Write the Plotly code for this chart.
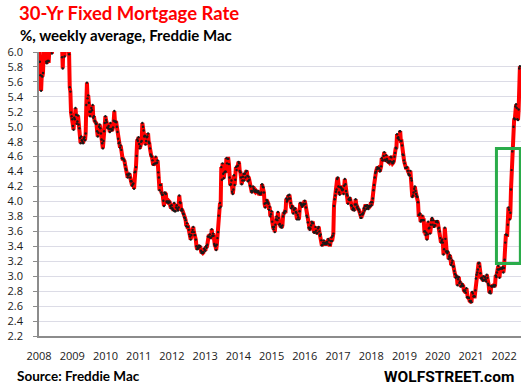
import pandas as pd
import plotly.graph_objects as go

# Weekly 30-yr fixed mortgage rate (%), Freddie Mac
rates_2008 = [6.07, 5.87, 5.69, 5.48, 5.68, 5.67, 5.72, 6.04, 6.24, 6.03, 6.13, 5.87, 5.85, 5.88, 5.88, 5.88, 6.03, 6.06, 6.05, 6.01, 5.98, 6.08, 6.09, 6.32, 6.42, 6.45, 6.35, 6.26, 6.26, 6.63, 6.52, 6.52, 6.52, 6.47, 6.40, 6.35, 5.93, 5.78, 6.09, 6.10, 5.94, 6.46, 6.04, 6.10, 6.20, 6.14, 6.04, 5.97, 5.53, 5.47, 5.19, 5.14, 5.10]
rates_2009 = [5.01, 4.96, 5.12, 5.10, 5.25, 5.16, 5.04, 5.07, 5.15, 5.03, 4.98, 4.85, 4.78, 4.87, 4.82, 4.80, 4.78, 4.84, 4.86, 4.82, 4.91, 5.29, 5.59, 5.38, 5.42, 5.32, 5.20, 5.14, 5.20, 5.25, 5.22, 5.29, 5.12, 5.14, 5.08, 5.07, 5.04, 5.04, 4.94, 4.87, 4.92, 5.00, 5.03, 4.98, 4.91, 4.83, 4.78, 4.71, 4.81, 4.94, 5.05, 5.14]
rates_2010 = [5.09, 5.06, 4.99, 4.98, 5.01, 4.97, 4.93, 5.05, 4.97, 4.95, 4.96, 4.99, 5.08, 5.21, 5.07, 5.07, 5.06, 5.00, 4.93, 4.84, 4.78, 4.79, 4.72, 4.75, 4.69, 4.58, 4.57, 4.57, 4.56, 4.54, 4.49, 4.44, 4.42, 4.36, 4.32, 4.35, 4.37, 4.37, 4.32, 4.27, 4.27, 4.21, 4.23, 4.24, 4.17, 4.39, 4.40, 4.46, 4.61, 4.83, 4.81, 4.86]
rates_2011 = [4.77, 4.71, 4.74, 4.80, 4.81, 5.05, 5.00, 4.95, 4.87, 4.88, 4.76, 4.81, 4.86, 4.87, 4.91, 4.80, 4.78, 4.71, 4.63, 4.61, 4.60, 4.55, 4.49, 4.50, 4.50, 4.51, 4.60, 4.51, 4.52, 4.55, 4.39, 4.32, 4.15, 4.22, 4.22, 4.12, 4.09, 4.09, 4.01, 3.94, 4.12, 4.11, 4.10, 4.00, 3.99, 4.00, 3.98, 4.00, 3.99, 3.94, 3.91, 3.95]
rates_2012 = [3.91, 3.89, 3.88, 3.98, 3.87, 3.87, 3.92, 3.95, 3.90, 3.88, 3.92, 4.08, 3.99, 3.98, 3.88, 3.90, 3.88, 3.84, 3.83, 3.79, 3.78, 3.75, 3.67, 3.71, 3.66, 3.66, 3.62, 3.56, 3.53, 3.49, 3.55, 3.59, 3.62, 3.66, 3.59, 3.55, 3.55, 3.49, 3.40, 3.36, 3.39, 3.37, 3.41, 3.39, 3.40, 3.34, 3.31, 3.32, 3.31, 3.32, 3.37, 3.35]
rates_2013 = [3.34, 3.40, 3.38, 3.42, 3.53, 3.53, 3.53, 3.56, 3.51, 3.52, 3.63, 3.54, 3.57, 3.54, 3.43, 3.41, 3.40, 3.35, 3.42, 3.51, 3.59, 3.81, 3.91, 3.98, 3.93, 4.46, 4.29, 4.51, 4.37, 4.31, 4.39, 4.40, 4.40, 4.58, 4.51, 4.57, 4.57, 4.50, 4.32, 4.22, 4.23, 4.28, 4.13, 4.10, 4.16, 4.35, 4.22, 4.29, 4.46, 4.42, 4.47, 4.48]
rates_2014 = [4.53, 4.51, 4.41, 4.39, 4.32, 4.23, 4.28, 4.33, 4.37, 4.28, 4.37, 4.32, 4.40, 4.41, 4.34, 4.27, 4.33, 4.29, 4.21, 4.20, 4.14, 4.12, 4.14, 4.20, 4.17, 4.14, 4.13, 4.15, 4.13, 4.13, 4.12, 4.14, 4.12, 4.10, 4.10, 4.10, 4.12, 4.23, 4.20, 4.19, 4.12, 3.97, 3.92, 3.98, 4.02, 4.01, 3.99, 3.97, 3.89, 3.93, 3.80, 3.83, 3.87]
rates_2015 = [3.73, 3.66, 3.63, 3.66, 3.59, 3.69, 3.76, 3.80, 3.75, 3.86, 3.78, 3.69, 3.70, 3.66, 3.67, 3.65, 3.68, 3.80, 3.85, 3.84, 3.87, 3.87, 4.04, 4.00, 4.02, 4.08, 4.04, 4.09, 4.04, 3.98, 3.91, 3.94, 3.93, 3.84, 3.89, 3.90, 3.91, 3.86, 3.85, 3.76, 3.82, 3.79, 3.76, 3.87, 3.98, 3.97, 3.95, 3.93, 3.95, 3.97, 3.96, 4.01]
rates_2016 = [3.97, 3.92, 3.81, 3.79, 3.72, 3.65, 3.65, 3.62, 3.64, 3.68, 3.73, 3.71, 3.71, 3.59, 3.58, 3.59, 3.66, 3.61, 3.57, 3.58, 3.64, 3.66, 3.60, 3.54, 3.56, 3.48, 3.41, 3.42, 3.45, 3.48, 3.43, 3.45, 3.43, 3.43, 3.46, 3.44, 3.50, 3.48, 3.42, 3.42, 3.47, 3.52, 3.47, 3.54, 3.57, 3.94, 4.03, 4.08, 4.13, 4.16, 4.30, 4.32]
rates_2017 = [4.20, 4.12, 4.09, 4.19, 4.19, 4.17, 4.15, 4.16, 4.10, 4.21, 4.30, 4.23, 4.14, 4.10, 4.08, 3.97, 4.03, 4.02, 4.05, 4.02, 3.95, 3.94, 3.89, 3.91, 3.90, 3.88, 3.96, 4.03, 3.96, 3.92, 3.93, 3.90, 3.89, 3.86, 3.82, 3.78, 3.78, 3.83, 3.83, 3.85, 3.91, 3.88, 3.94, 3.94, 3.90, 3.95, 3.92, 3.90, 3.94, 3.93, 3.94, 3.99]
rates_2018 = [3.95, 3.99, 4.04, 4.15, 4.22, 4.32, 4.38, 4.40, 4.43, 4.46, 4.44, 4.45, 4.44, 4.40, 4.42, 4.47, 4.58, 4.55, 4.55, 4.61, 4.66, 4.56, 4.54, 4.62, 4.57, 4.55, 4.52, 4.53, 4.52, 4.54, 4.60, 4.59, 4.53, 4.51, 4.52, 4.54, 4.60, 4.65, 4.72, 4.71, 4.90, 4.85, 4.86, 4.83, 4.94, 4.94, 4.81, 4.81, 4.75, 4.63, 4.62, 4.55]
rates_2019 = [4.51, 4.45, 4.45, 4.45, 4.46, 4.41, 4.37, 4.35, 4.35, 4.41, 4.31, 4.28, 4.06, 4.08, 4.12, 4.17, 4.20, 4.14, 4.10, 4.07, 4.06, 3.99, 3.82, 3.82, 3.84, 3.73, 3.75, 3.75, 3.81, 3.75, 3.75, 3.60, 3.60, 3.55, 3.58, 3.49, 3.56, 3.73, 3.64, 3.65, 3.57, 3.69, 3.75, 3.78, 3.69, 3.75, 3.66, 3.68, 3.68, 3.73, 3.73, 3.74]
rates_2020 = [3.72, 3.64, 3.65, 3.60, 3.51, 3.45, 3.47, 3.49, 3.45, 3.29, 3.36, 3.65, 3.50, 3.33, 3.33, 3.31, 3.33, 3.23, 3.26, 3.28, 3.24, 3.15, 3.18, 3.21, 3.13, 3.13, 3.07, 3.03, 2.98, 3.01, 2.99, 2.88, 2.96, 2.99, 2.91, 2.93, 2.86, 2.87, 2.90, 2.88, 2.87, 2.81, 2.80, 2.81, 2.78, 2.84, 2.72, 2.72, 2.71, 2.71, 2.67, 2.66, 2.67]
rates_2021 = [2.65, 2.79, 2.77, 2.73, 2.73, 2.73, 2.81, 2.97, 3.02, 3.05, 3.09, 3.17, 3.18, 3.13, 3.04, 2.97, 2.98, 2.96, 2.94, 3.00, 2.95, 2.99, 2.96, 2.93, 3.02, 2.98, 2.90, 2.88, 2.78, 2.80, 2.77, 2.87, 2.86, 2.87, 2.87, 2.88, 2.86, 2.88, 3.01, 2.99, 3.05, 3.09, 3.14, 3.09, 2.98, 3.10, 3.10, 3.11, 3.10, 3.12, 3.05, 3.11]
rates_2022 = [3.22, 3.45, 3.56, 3.55, 3.55, 3.69, 3.92, 3.89, 3.76, 3.85, 4.16, 4.42, 4.67, 4.72, 5.00, 5.11, 5.10, 5.27, 5.30, 5.25, 5.10, 5.09, 5.23, 5.78, 5.81]

# first weekly release date of each year
first_release = ["2008-01-03", "2009-01-08", "2010-01-07", "2011-01-06", "2012-01-05",
                 "2013-01-03", "2014-01-02", "2015-01-08", "2016-01-07", "2017-01-05",
                 "2018-01-04", "2019-01-03", "2020-01-02", "2021-01-07", "2022-01-06"]
yearly_rates = [rates_2008, rates_2009, rates_2010, rates_2011, rates_2012, rates_2013,
                rates_2014, rates_2015, rates_2016, rates_2017, rates_2018, rates_2019,
                rates_2020, rates_2021, rates_2022]

year_ticks = [str(y) for y in range(2008, 2023)]
y_ticks = [2.2, 2.4, 2.6, 2.8, 3.0, 3.2, 3.4, 3.6, 3.8, 4.0, 4.2, 4.4, 4.6, 4.8, 5.0, 5.2, 5.4, 5.6, 5.8, 6.0]

# highlight box (late 2021 - mid 2022)
box_x = ["2021-10-08", "2022-06-28"]
box_y = [3.17, 4.71]

dates, values = [], []
for start, vals in zip(first_release, yearly_rates):
    dates += list(pd.date_range(start, periods=len(vals), freq="7D"))
    values += vals

W, H = 526, 392
ML, MR, MT, MB = 39, 5, 52, 56
PW, PH = W - ML - MR, H - MT - MB

def px_x(p):
    return (p - ML) / PW

def px_y(p):
    return (H - MB - p) / PH

fig = go.Figure()
fig.add_trace(go.Scatter(
    x=dates, y=values, mode="lines+markers",
    line=dict(color="#ff0000", width=4),
    marker=dict(color="#1a1a1a", size=2.4),
    hoverinfo="x+y", showlegend=False,
))

fig.add_shape(type="rect", xref="x", yref="y",
              x0=box_x[0], x1=box_x[1], y0=box_y[0], y1=box_y[1],
              line=dict(color="#2aac4a", width=3), fillcolor="rgba(0,0,0,0)")

label_font = dict(family="Open Sans", size=11, color="#1a1a1a")
fig.update_layout(
    width=W, height=H,
    margin=dict(l=ML, r=MR, t=MT, b=MB, pad=0),
    paper_bgcolor="white", plot_bgcolor="white",
    xaxis=dict(
        type="date", range=["2008-01-01", "2022-07-05"],
        tickvals=[f"{y}-01-01" for y in year_ticks], ticktext=year_ticks,
        showgrid=False, showline=True, linecolor="#8c8c8c", linewidth=1.5,
        ticks="", tickfont=label_font, ticklabelstandoff=9, zeroline=False,
    ),
    yaxis=dict(
        range=[2.2, 6.0], tickvals=y_ticks, ticktext=[f"{v:.1f}" for v in y_ticks],
        showgrid=True, gridcolor="#dcdce6", gridwidth=1,
        showline=True, linecolor="#8c8c8c", linewidth=1.5,
        ticks="outside", ticklen=4, tickcolor="#8c8c8c",
        tickfont=label_font, ticklabelstandoff=8, zeroline=False,
    ),
    annotations=[
        dict(text="<b>30-Yr Fixed Mortgage Rate</b>", xref="paper", yref="paper",
             x=px_x(17), y=px_y(13), xanchor="left", yanchor="middle", showarrow=False,
             font=dict(family="Lato", size=18.5, color="#ff0000")),
        dict(text="<b>%, weekly average, Freddie Mac</b>", xref="paper", yref="paper",
             x=px_x(18), y=px_y(35), xanchor="left", yanchor="middle", showarrow=False,
             font=dict(family="Lato", size=15, color="#000000")),
        dict(text="<b>Source: Freddie Mac</b>", xref="paper", yref="paper",
             x=px_x(15), y=px_y(376), xanchor="left", yanchor="middle", showarrow=False,
             font=dict(family="Lato", size=13.5, color="#000000")),
        dict(text="<b>WOLFSTREET.com</b>", xref="paper", yref="paper",
             x=px_x(516), y=px_y(377), xanchor="right", yanchor="middle", showarrow=False,
             font=dict(family="Roboto", size=15.5, color="#000000")),
    ],
)

fig.write_html("out.html", config={"displayModeBar": False},
               post_script="document.body.style.margin='0';document.body.style.padding='0';")
